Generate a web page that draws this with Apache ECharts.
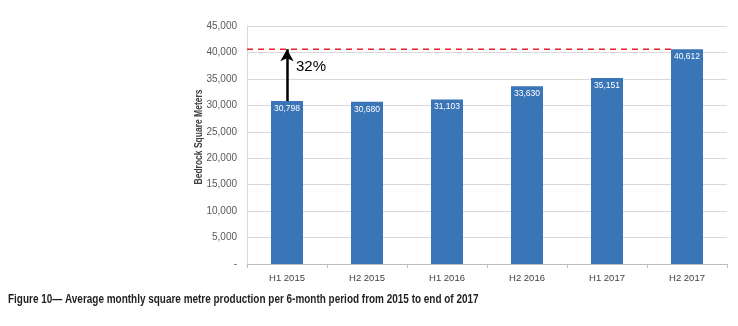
<!DOCTYPE html>
<html>
<head>
<meta charset="utf-8">
<script src="https://cdn.jsdelivr.net/npm/echarts@6/dist/echarts.min.js"></script>
<style>
  html, body { margin: 0; padding: 0; background: #fff; }
  #chart { width: 738px; height: 326px; }
</style>
</head>
<body>
<div id="chart"></div>
<script>
// periods and average monthly production
var categories = ['H1 2015', 'H2 2015', 'H1 2016', 'H2 2016', 'H1 2017', 'H2 2017'];
var production = [30798, 30680, 31103, 33630, 35151, 40612];
var targetLine = 40612;   // dashed red reference level
var baseValue = 30798;    // start of the growth arrow
var yMin = 0, yMax = 45000, yStep = 5000;

var yTitle = 'Bedrock Square Meters';
var caption = 'Figure 10\u2014 Average monthly square metre production per 6-month period from 2015 to end of 2017';
var growth = Math.round((targetLine / baseValue - 1) * 100) + '%';

function fmt(v) {
  if (v === 0) return '-';
  return String(v).replace(/\B(?=(\d{3})+(?!\d))/g, ',');
}

var chart = echarts.init(document.getElementById('chart'), null, { renderer: 'canvas' });

chart.setOption({
  animation: false,
  textStyle: { fontFamily: 'Liberation Sans, Arial, sans-serif' },
  graphic: [
    {
      // caption, squeezed to look like a narrow typeface
      type: 'text',
      left: 8,
      top: 294,
      scaleX: 0.83,
      style: {
        text: caption,
        font: 'bold 12px "Liberation Sans", Arial, sans-serif',
        fill: '#231f20'
      }
    },
    {
      // y axis title, rotated and a bit condensed
      type: 'text',
      x: 199,
      y: 137,
      rotation: Math.PI / 2,
      scaleX: 0.85,
      style: {
        text: yTitle,
        font: 'bold 10px "Liberation Sans", Arial, sans-serif',
        fill: '#404040',
        align: 'center',
        verticalAlign: 'middle'
      }
    }
  ],
  grid: { left: 247, right: 11, top: 26, bottom: 62 },
  xAxis: [
    {
      type: 'category',
      data: categories,
      axisLine: { lineStyle: { color: '#bfbfbf' } },
      axisTick: { show: true, length: 4, lineStyle: { color: '#bfbfbf' } },
      axisLabel: { color: '#404040', fontSize: 9.5, margin: 9 }
    },
    {
      // hidden helper axis so the dashed line can stop at the last bar
      type: 'value',
      min: -0.5,
      max: categories.length - 0.5,
      show: false
    }
  ],
  yAxis: {
    type: 'value',
    min: yMin,
    max: yMax,
    interval: yStep,
    axisLine: { show: true, onZero: false, lineStyle: { color: '#d9d9d9' } },
    axisTick: { show: false },
    splitLine: { lineStyle: { color: '#d9d9d9' } },
    axisLabel: { color: '#595959', fontSize: 10, margin: 10, formatter: fmt }
  },
  series: [
    {
      type: 'bar',
      data: production,
      barWidth: '40%',
      itemStyle: { color: '#3a75b8' },
      label: {
        show: true,
        position: 'insideTop',
        distance: 3,
        color: '#ffffff',
        fontSize: 8.5,
        formatter: function (p) { return fmt(p.value); }
      },
      markLine: {
        silent: true,
        symbol: ['none', 'arrow'],
        symbolSize: [10, 12],
        lineStyle: { color: '#000', type: 'solid', width: 2.5 },
        label: { show: false },
        data: [[
          { coord: [0, baseValue] },
          { coord: [0, targetLine] }
        ]]
      },
      markPoint: {
        silent: true,
        symbol: 'circle',
        symbolSize: 1,
        itemStyle: { color: 'transparent' },
        label: {
          show: true,
          formatter: growth,
          color: '#000',
          fontSize: 15,
          offset: [24, 0]
        },
        data: [{ coord: [0, 37300] }]
      }
    },
    {
      type: 'line',
      xAxisIndex: 1,
      data: [[-0.5, targetLine], [categories.length - 1.2, targetLine]],
      symbol: 'none',
      lineStyle: { color: '#e8202a', type: [6, 5], width: 1.5 },
      silent: true,
      z: 3
    }
  ]
});
</script>
</body>
</html>
